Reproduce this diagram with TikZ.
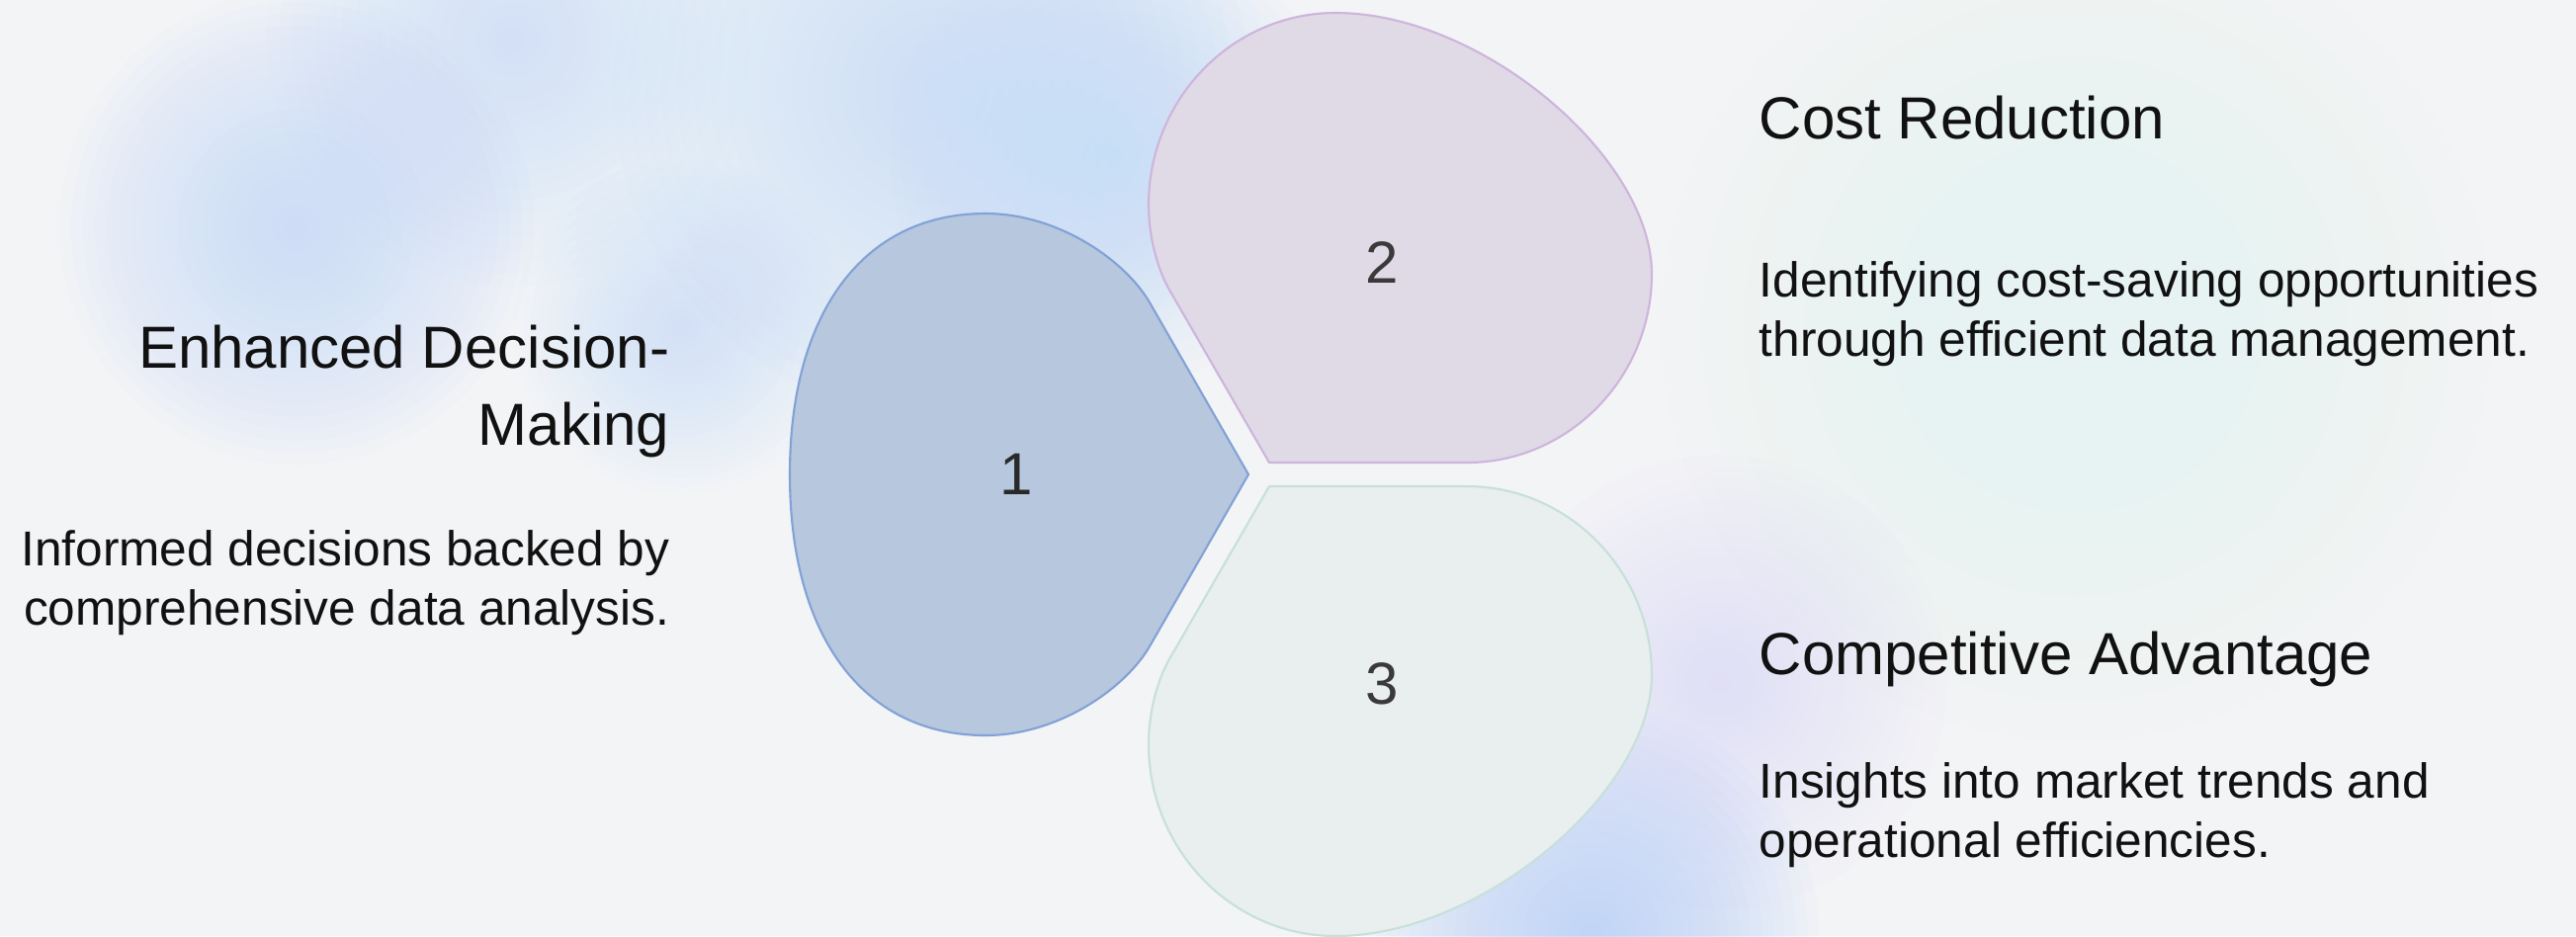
\documentclass[tikz,border=0pt]{standalone}
\usepackage{fontspec}
\setmainfont{Liberation Sans}
\definecolor{bgc}{HTML}{F3F4F6}
\definecolor{blueA}{HTML}{C2D9F8}
\definecolor{blueB}{HTML}{C6DFFB}
\definecolor{blueC}{HTML}{B6CFFA}
\definecolor{lavA}{HTML}{E0D9F8}
\definecolor{mintA}{HTML}{E6F3F2}
\definecolor{pOneFill}{HTML}{B6C7DE}
\definecolor{pOneLine}{HTML}{82A2D6}
\definecolor{pTwoFill}{HTML}{E0D9E6}
\definecolor{pTwoLine}{HTML}{CDB5DC}
\definecolor{pThreeFill}{HTML}{E9EEEE}
\definecolor{pThreeLine}{HTML}{C6E0DA}
\definecolor{txt}{HTML}{111111}
\definecolor{numc}{HTML}{3A3A3A}
\newcommand{\softblob}[5]{%
  \foreach \k in {1,...,20}{%
    \fill[#4, opacity=#5] (#1,#2) circle[radius={#3*(21-\k)/20*0.01cm}];
  }%
}
\begin{document}
\begin{tikzpicture}[x=0.01cm,y=-0.01cm,
  petal/.style={line width=0.6pt, line join=round},
  title/.style={inner sep=0pt, text=txt, font=\fontsize{17.07pt}{22.2pt}\selectfont},
  body/.style={inner sep=0pt, text=txt, font=\fontsize{14.1pt}{17.07pt}\selectfont},
  num/.style={inner sep=0pt, text=numc, font=\fontsize{17.07pt}{20pt}\selectfont}]
\useasboundingbox (0,0) rectangle (2606,947);
\begin{scope}
\clip (0,0) rectangle (2606,947);
\fill[bgc] (0,0) rectangle (2606,947);
% soft background washes
\softblob{300}{230}{240}{blueA}{0.05}
\softblob{520}{40}{250}{blueB}{0.045}
\softblob{950}{90}{330}{blueB}{0.055}
\softblob{1130}{160}{230}{blueB}{0.05}
\softblob{690}{330}{170}{blueB}{0.045}
\softblob{2100}{330}{420}{mintA}{0.03}
\softblob{1740}{690}{230}{lavA}{0.04}
\softblob{1610}{945}{230}{blueC}{0.06}
\end{scope}
% petal 1
\draw[petal, fill=pOneFill, draw=pOneLine]
  (1263,480) -- (1163,306)
  .. controls (1138,263) and (1070,216) .. (997,216)
  .. controls (872,216) and (799,318) .. (799,480)
  .. controls (799,642) and (872,744) .. (997,744)
  .. controls (1070,744) and (1138,697) .. (1163,654) -- cycle;
% petal 2
\draw[petal, fill=pTwoFill, draw=pTwoLine]
  (1284,468) -- (1484,468)
  .. controls (1587,468) and (1671,382) .. (1671,277)
  .. controls (1671,160) and (1500,13) .. (1351,13)
  .. controls (1247,13) and (1162,100) .. (1162,207)
  .. controls (1162,240) and (1171,273) .. (1184,295) -- cycle;
% petal 3
\draw[petal, fill=pThreeFill, draw=pThreeLine]
  (1284,492) -- (1484,492)
  .. controls (1587,492) and (1671,578) .. (1671,683)
  .. controls (1671,800) and (1500,947) .. (1351,947)
  .. controls (1247,947) and (1162,860) .. (1162,753)
  .. controls (1162,720) and (1171,687) .. (1184,665) -- cycle;
% numbers
\node[num, text=txt!90] (n1) at (1028,480) {1};
\node[num] (n2) at (1398,266) {2};
\node[num] (n3) at (1398,692) {3};
% left texts
\node[title, anchor=base east] (t1a) at (678,372) {Enhanced Decision-};
\node[title, anchor=base east] (t1b) at (678,450) {Making};
\node[body, anchor=base east] (d1a) at (678,572) {Informed decisions backed by};
\node[body, anchor=base east] (d1b) at (678,632) {comprehensive data analysis.};
% right texts
\node[title, anchor=base west] (t2) at (1779,140) {Cost Reduction};
\node[body, anchor=base west] (d2a) at (1779,300) {Identifying cost-saving opportunities};
\node[body, anchor=base west] (d2b) at (1779,360) {through efficient data management.};
\node[title, anchor=base west] (t3) at (1779,682) {Competitive Advantage};
\node[body, anchor=base west] (d3a) at (1779,807) {Insights into market trends and};
\node[body, anchor=base west] (d3b) at (1779,867) {operational efficiencies.};
\end{tikzpicture}
\end{document}
